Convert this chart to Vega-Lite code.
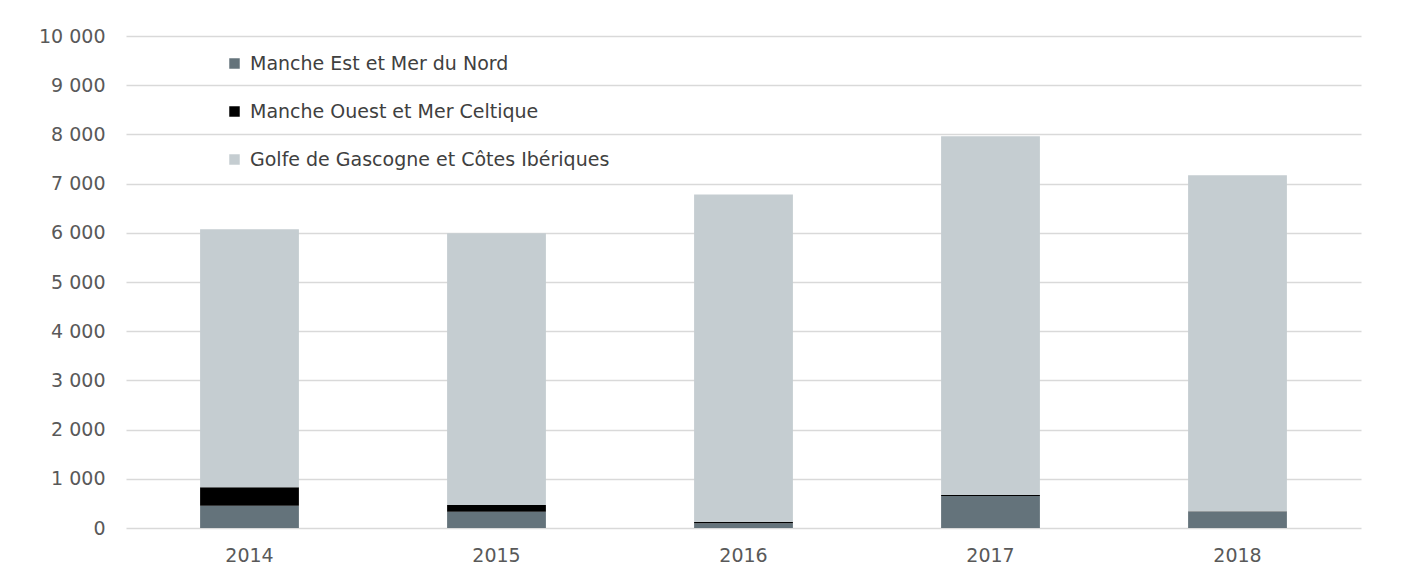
{
  "$schema": "https://vega.github.io/schema/vega-lite/v6.json",
  "width": 1235,
  "height": 492,
  "autosize": "none",
  "padding": {"left": 126, "top": 36, "right": 46, "bottom": 51},
  "background": "white",
  "config": {
    "font": "DejaVu Sans",
    "view": {"stroke": null}
  },
  "data": {
    "values": [
      {"annee": "2014", "zone": "Manche Est et Mer du Nord", "rang": 1, "valeur": 450},
      {"annee": "2014", "zone": "Manche Ouest et Mer Celtique", "rang": 2, "valeur": 380},
      {"annee": "2014", "zone": "Golfe de Gascogne et Côtes Ibériques", "rang": 3, "valeur": 5240},
      {"annee": "2015", "zone": "Manche Est et Mer du Nord", "rang": 1, "valeur": 330},
      {"annee": "2015", "zone": "Manche Ouest et Mer Celtique", "rang": 2, "valeur": 135},
      {"annee": "2015", "zone": "Golfe de Gascogne et Côtes Ibériques", "rang": 3, "valeur": 5525},
      {"annee": "2016", "zone": "Manche Est et Mer du Nord", "rang": 1, "valeur": 95},
      {"annee": "2016", "zone": "Manche Ouest et Mer Celtique", "rang": 2, "valeur": 25},
      {"annee": "2016", "zone": "Golfe de Gascogne et Côtes Ibériques", "rang": 3, "valeur": 6660},
      {"annee": "2017", "zone": "Manche Est et Mer du Nord", "rang": 1, "valeur": 650},
      {"annee": "2017", "zone": "Manche Ouest et Mer Celtique", "rang": 2, "valeur": 20},
      {"annee": "2017", "zone": "Golfe de Gascogne et Côtes Ibériques", "rang": 3, "valeur": 7290},
      {"annee": "2018", "zone": "Manche Est et Mer du Nord", "rang": 1, "valeur": 335},
      {"annee": "2018", "zone": "Manche Ouest et Mer Celtique", "rang": 2, "valeur": 5},
      {"annee": "2018", "zone": "Golfe de Gascogne et Côtes Ibériques", "rang": 3, "valeur": 6830}
    ]
  },
  "mark": {"type": "bar"},
  "encoding": {
    "x": {
      "field": "annee",
      "type": "nominal",
      "scale": {"paddingInner": 0.6, "paddingOuter": 0.3},
      "axis": {
        "title": null,
        "labelAngle": 0,
        "labelFontSize": 19,
        "labelColor": "#595959",
        "labelPadding": 18,
        "ticks": false,
        "domain": false
      }
    },
    "y": {
      "field": "valeur",
      "type": "quantitative",
      "aggregate": "sum",
      "stack": "zero",
      "scale": {"domain": [0, 10000], "nice": false},
      "axis": {
        "title": null,
        "values": [0, 1000, 2000, 3000, 4000, 5000, 6000, 7000, 8000, 9000, 10000],
        "format": ",d",
        "labelExpr": "replace(datum.label, ',', ' ')",
        "labelFontSize": 19,
        "labelColor": "#595959",
        "labelPadding": 21,
        "ticks": false,
        "domain": false,
        "grid": true,
        "gridColor": "#D9D9D9",
        "gridWidth": 1.5
      }
    },
    "color": {
      "field": "zone",
      "type": "nominal",
      "sort": ["Manche Est et Mer du Nord", "Manche Ouest et Mer Celtique", "Golfe de Gascogne et Côtes Ibériques"],
      "scale": {
        "domain": ["Manche Est et Mer du Nord", "Manche Ouest et Mer Celtique", "Golfe de Gascogne et Côtes Ibériques"],
        "range": ["#64737B", "#000000", "#C5CDD1"]
      },
      "legend": {
        "title": null,
        "orient": "none",
        "legendX": 99,
        "legendY": 18,
        "symbolType": "square",
        "symbolSize": 110,
        "symbolStrokeWidth": 0,
        "labelFontSize": 19,
        "labelColor": "#404040",
        "labelOffset": 6,
        "rowPadding": 28,
        "labelLimit": 500
      }
    },
    "order": {"field": "rang", "type": "quantitative", "sort": "ascending"}
  }
}
